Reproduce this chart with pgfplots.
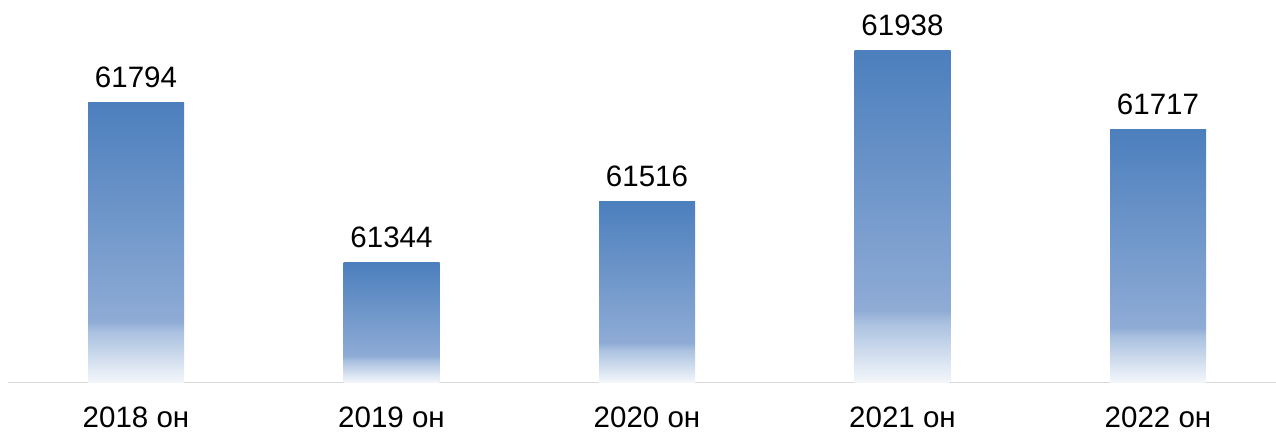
\documentclass[border=0pt]{standalone}
\usepackage{fontspec}
\setmainfont{Liberation Sans}
\usepackage{pgfplots}
\pgfplotsset{compat=1.18}

\definecolor{bartop}{RGB}{76,127,189}
\definecolor{barmid}{RGB}{142,171,213}
\definecolor{barlow}{RGB}{170,193,224}
\definecolor{barbot}{RGB}{244,247,251}
\definecolor{baseline}{RGB}{217,217,217}

% shading: 25bp = bottom of bar, 75bp = top of bar
\pgfdeclareverticalshading{barshade}{100bp}{%
  color(0bp)=(barbot); color(25bp)=(barbot); color(34bp)=(barlow);
  color(36bp)=(barmid); color(75bp)=(bartop); color(100bp)=(bartop)}

\begin{document}
\begin{tikzpicture}
\begin{axis}[
    scale only axis,
    width=1268bp, height=382.5bp,
    xmin=-0.501, xmax=4.462,
    ymin=61008, ymax=62080,
    ybar, bar width=96bp, bar shift=0pt,
    axis y line=none,
    axis x line*=bottom,
    x axis line style={draw=baseline, line width=1.5bp},
    xtick={0,1,2,3,4},
    xticklabels={2018 он, 2019 он, 2020 он, 2021 он, 2022 он},
    xtick style={draw=none},
    xticklabel style={anchor=base, yshift=-40.5bp, inner sep=0pt},
    /pgf/number format/assume math mode=true,
    nodes near coords={\pgfmathprintnumber[fixed, precision=0, 1000 sep={}]{\pgfplotspointmeta}},
    nodes near coords style={anchor=base, yshift=15bp, inner sep=0pt, text=black},
    ticklabel style={font=\fontsize{29.5bp}{35bp}\selectfont},
    every node near coord/.append style={font=\fontsize{29.5bp}{35bp}\selectfont},
    every axis plot/.append style={draw=none, shading=barshade},
    clip=false,
  ]
  \addplot coordinates {(0,61794)};
  \addplot coordinates {(1,61344)};
  \addplot coordinates {(2,61516)};
  \addplot coordinates {(3,61938)};
  \addplot coordinates {(4,61717)};
\end{axis}
\pgfresetboundingbox
\path[use as bounding box] (-8bp,-49.5bp) rectangle (1268bp,382.5bp);
\end{tikzpicture}
\end{document}
